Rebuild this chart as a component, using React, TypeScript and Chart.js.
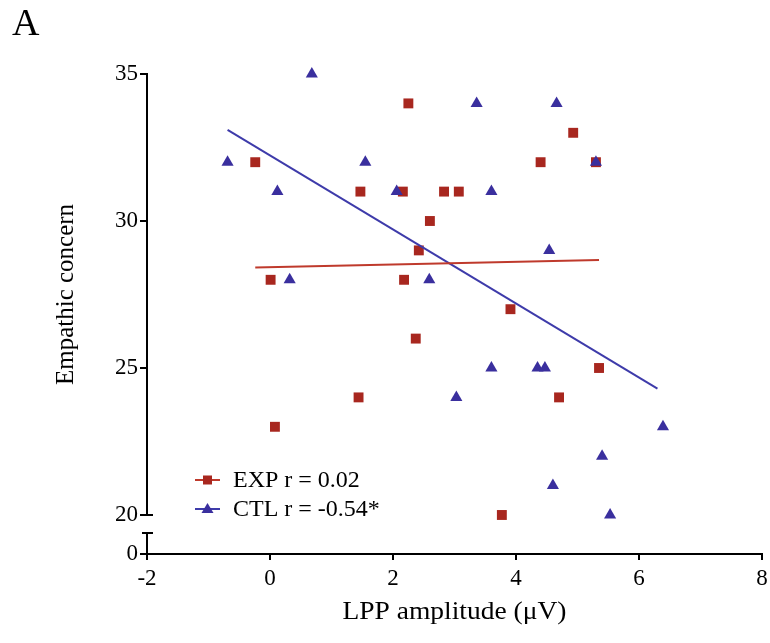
import React, { useEffect, useRef } from "react";
import { Chart, registerables } from "chart.js";

Chart.register(...registerables);

// EXP group (red squares)
const expX = [-0.24, 0.01, 0.08, 1.44, 1.47, 2.16, 2.18, 2.25, 2.37, 2.42, 2.6, 2.83, 3.07, 3.77, 3.91, 4.4, 4.7, 4.93, 5.3, 5.35];
const expY = [32, 28, 23, 24, 31, 31, 28, 34, 26, 29, 30, 31, 31, 20, 27, 32, 24, 33, 32, 25];
// CTL group (blue triangles)
const ctlX = [-0.69, 0.12, 0.32, 0.68, 1.55, 2.06, 2.59, 3.03, 3.36, 3.6, 3.6, 4.35, 4.47, 4.54, 4.6, 4.66, 5.3, 5.4, 5.53, 6.39];
const ctlY = [32, 31, 28, 35, 32, 31, 28, 24, 34, 31, 25, 25, 25, 29, 21, 34, 32, 22, 20, 23];
// regression line endpoints
const expFitX = [-0.24, 5.35];
const expFitY = [28.42, 28.67];
const ctlFitX = [-0.69, 6.3];
const ctlFitY = [33.1, 24.3];

const legendLabels = ["EXP r = 0.02", "CTL r = -0.54*"];
const xTitle = "LPP amplitude (\u03bcV)";
const yTitle = "Empathic concern";
const panelLabel = "A";

const yTicks = [20, 25, 30, 35];
const Y_MIN = 18.673; // displayed as "0" (broken axis)
const BREAK_LOW = 19.39;

const RED = "#A8271F";
const RED_LINE = "#BF3A2C";
const BLUE = "#3A2F9E";
const BLUE_LINE = "#3E3BAA";
const FONT = "'Liberation Serif', 'Times New Roman', serif";

const toPts = (xs: number[], ys: number[]) => xs.map((x, i) => ({ x, y: ys[i] }));

const decor = {
  id: "decor",
  afterDraw(chart: any) {
    const { ctx, chartArea, scales } = chart;
    const y = scales.y;
    ctx.save();
    // broken y axis line
    ctx.strokeStyle = "#000";
    ctx.lineWidth = 2;
    const ax = chartArea.left;
    const yTop = y.getPixelForValue(35);
    const y20 = y.getPixelForValue(20);
    const yBr = y.getPixelForValue(BREAK_LOW);
    ctx.beginPath();
    ctx.moveTo(ax, yTop - 1);
    ctx.lineTo(ax, y20);
    ctx.moveTo(ax - 1, y20);
    ctx.lineTo(ax + 6, y20);
    ctx.moveTo(ax - 5, yBr);
    ctx.lineTo(ax + 6, yBr);
    ctx.moveTo(ax, yBr);
    ctx.lineTo(ax, chartArea.bottom + 1);
    ctx.stroke();

    // titles
    ctx.fillStyle = "#000";
    ctx.font = `25px ${FONT}`;
    ctx.textAlign = "center";
    ctx.textBaseline = "middle";
    ctx.save();
    ctx.translate((chartArea.left + chartArea.right) / 2, 612);
    ctx.scale(1.1, 1);
    ctx.fillText(xTitle, 0, 0);
    ctx.restore();
    ctx.save();
    ctx.translate(66, (yTop + y20) / 2);
    ctx.rotate(-Math.PI / 2);
    ctx.fillText(yTitle, 0, 0);
    ctx.restore();

    ctx.font = `38px ${FONT}`;
    ctx.textAlign = "left";
    ctx.textBaseline = "alphabetic";
    ctx.fillText(panelLabel, 12, 35);

    // legend
    const lx = chartArea.left + 48;
    const rows = [chartArea.bottom - 74, chartArea.bottom - 45];
    const cols = [RED, BLUE];
    const lineCols = [RED_LINE, BLUE_LINE];
    rows.forEach((ry, i) => {
      ctx.strokeStyle = lineCols[i];
      ctx.lineWidth = 2;
      ctx.beginPath();
      ctx.moveTo(lx, ry);
      ctx.lineTo(lx + 25, ry);
      ctx.stroke();
      ctx.fillStyle = cols[i];
      const cx = lx + 12.5;
      if (i === 0) {
        ctx.fillRect(cx - 4.5, ry - 4.5, 9, 9);
      } else {
        ctx.beginPath();
        ctx.moveTo(cx, ry - 6);
        ctx.lineTo(cx + 6, ry + 4);
        ctx.lineTo(cx - 6, ry + 4);
        ctx.closePath();
        ctx.fill();
      }
      ctx.fillStyle = "#000";
      ctx.font = `24px ${FONT}`;
      ctx.textBaseline = "middle";
      ctx.fillText(legendLabels[i], lx + 38, ry + 1);
    });
    ctx.restore();
  },
};

export default function App() {
  const ref = useRef<HTMLCanvasElement>(null);
  useEffect(() => {
    if (!ref.current) return;
    const chart = new Chart(ref.current, {
      type: "scatter",
      data: {
        datasets: [
          {
            label: "EXP fit",
            data: toPts(expFitX, expFitY),
            showLine: true,
            borderColor: RED_LINE,
            borderWidth: 2,
            pointRadius: 0,
            clip: false,
          },
          {
            label: "CTL fit",
            data: toPts(ctlFitX, ctlFitY),
            showLine: true,
            borderColor: BLUE_LINE,
            borderWidth: 2,
            pointRadius: 0,
            clip: false,
          },
          {
            label: "CTL",
            data: toPts(ctlX, ctlY),
            pointStyle: "triangle",
            pointRadius: 7,
            backgroundColor: BLUE,
            borderColor: BLUE,
            borderWidth: 0,
            clip: false,
          },
          {
            label: "EXP",
            data: toPts(expX, expY),
            pointStyle: "rect",
            pointRadius: 7,
            backgroundColor: RED,
            borderColor: RED,
            borderWidth: 0,
            clip: false,
          },
        ],
      },
      options: {
        responsive: false,
        animation: false,
        layout: { padding: { top: 74, right: 8, left: 0, bottom: 0 } },
        plugins: { legend: { display: false }, tooltip: { enabled: false } },
        scales: {
          x: {
            type: "linear",
            min: -2,
            max: 8,
            ticks: { stepSize: 2, color: "#000", font: { family: FONT, size: 23 }, padding: 5 },
            grid: { display: true, drawOnChartArea: false, drawTicks: true, tickLength: 6, color: "#000", lineWidth: 2 },
            border: { display: true, color: "#000", width: 2 },
            afterFit: (s: any) => {
              s.height = 89;
              s.paddingLeft = 0;
              s.paddingRight = 0;
            },
          },
          y: {
            type: "linear",
            min: Y_MIN,
            max: 35,
            afterBuildTicks: (s: any) => {
              s.ticks = [Y_MIN, ...yTicks].map((v) => ({ value: v }));
            },
            ticks: {
              color: "#000",
              font: { family: FONT, size: 23 },
              padding: 2,
              callback: (v: any) => (v < 19 ? "0" : String(v)),
            },
            grid: { display: true, drawOnChartArea: false, drawTicks: true, tickLength: 7, color: "#000", lineWidth: 2 },
            border: { display: false },
            afterFit: (s: any) => {
              s.width = 147;
              s.paddingTop = 0;
              s.paddingBottom = 0;
            },
          },
        },
      },
      plugins: [decor],
    });
    return () => chart.destroy();
  }, []);
  return (
    <div style={{ position: "absolute", left: 0, top: 0, width: 770, height: 643, background: "#fff" }}>
      <canvas ref={ref} width={770} height={643} />
    </div>
  );
}
